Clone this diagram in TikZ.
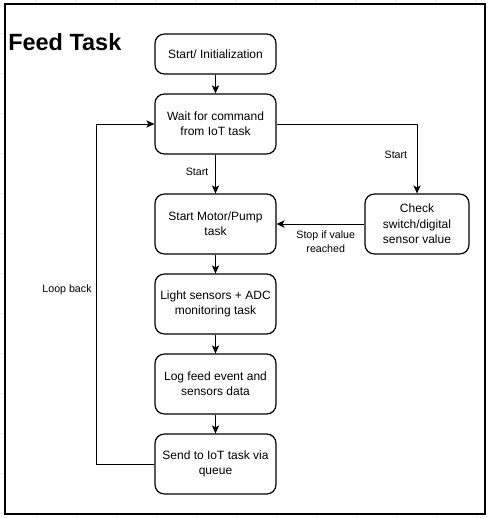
\documentclass[tikz,border=0pt]{standalone}
\usepackage{fontspec}
\setmainfont{Liberation Sans}
\usetikzlibrary{arrows.meta}
\begin{document}
\begin{tikzpicture}[x=0.75pt,y=-0.75pt,
  box/.style={draw, rounded corners=7pt, line width=0.9pt, fill=white,
    minimum width=90.75pt, minimum height=45pt, align=center, inner sep=2pt,
    font=\fontsize{9}{11.5}\selectfont},
  arr/.style={-{Stealth[length=6pt,width=5.5pt,inset=1.5pt]}, line width=0.75pt},
  lbl/.style={align=center, inner sep=1pt, font=\fontsize{8}{10}\selectfont},
  gridline/.style={draw=black!8, line width=0.4pt}]
\useasboundingbox (0,0) rectangle (487,518);
% background grid
\foreach \gx in {-4,36,...,486} \draw[gridline] (\gx,0) -- (\gx,518);
\foreach \gy in {-7,33,...,517} \draw[gridline] (0,\gy) -- (487,\gy);
% frame
\draw[fill=white, line width=0.8pt] (5,4) rectangle (485,514);
% title
\node[anchor=base west, inner sep=0pt, font=\fontsize{17.6}{20}\selectfont\bfseries] (title) at (8,50) {Feed Task};
% boxes
\node[box, minimum height=30pt] (init) at (215.5,54) {Start/ Initialization};
\node[box] (wait) at (215.5,124) {Wait for command\\from IoT task};
\node[box] (motor) at (215.5,224) {Start Motor/Pump\\task};
\node[box] (light) at (215.5,304) {Light sensors + ADC\\monitoring task};
\node[box] (log) at (215.5,384) {Log feed event and\\sensors data};
\node[box] (send) at (215.5,464) {Send to IoT task via\\queue};
\node[box, minimum width=78pt] (check) at (417,224) {Check\\switch/digital\\sensor value};
% connectors
\draw[arr] (init) -- (wait);
\draw[arr] (wait) -- node[lbl, left=4pt, pos=0.45] {Start} (motor);
\draw[arr] (wait.east) -| node[lbl, pos=0.72, left=6pt] {Start} (check.north);
\draw[arr] (check.west) -- node[lbl, below=4pt, pos=0.44] {Stop if value\\reached} (motor.east);
\draw[arr] (motor) -- (light);
\draw[arr] (light) -- (log);
\draw[arr] (log) -- (send);
\coordinate (lb) at (96,464);
\coordinate (lt) at (96,124);
\draw[arr] (send.west) -- (lb) -- (lt) -- (wait.west);
\node[lbl] (loop) at (67,290) {Loop back};
\end{tikzpicture}
\end{document}
